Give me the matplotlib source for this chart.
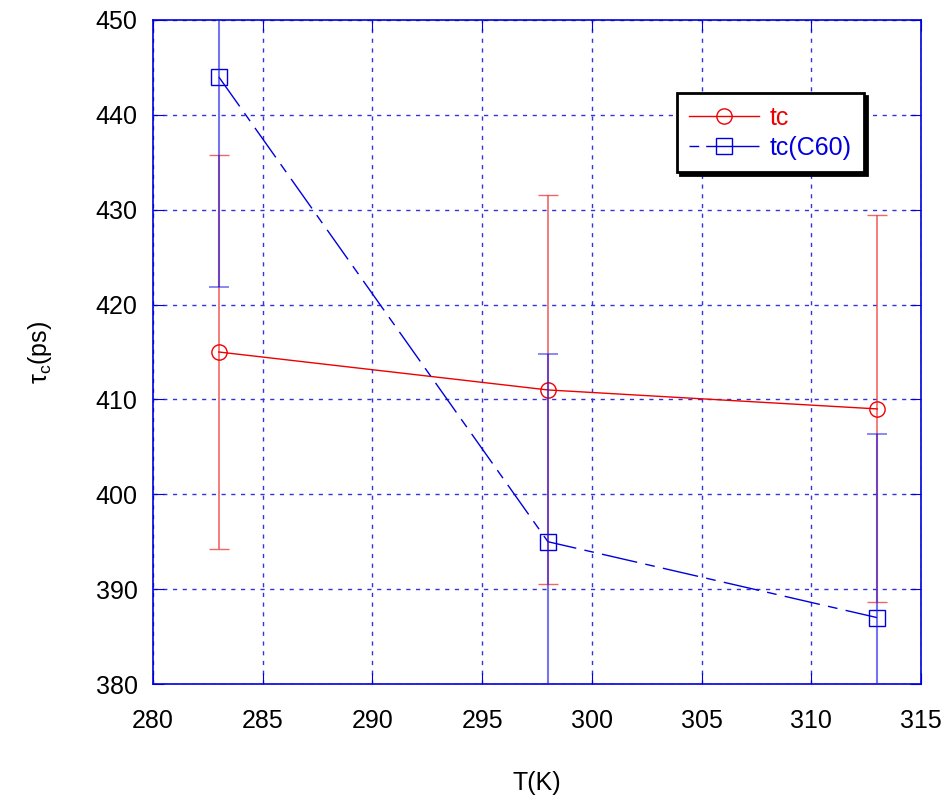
"""Tempo de correlacao tau_c em funcao da temperatura."""

import matplotlib
matplotlib.use("Agg")
import matplotlib.pyplot as plt
from matplotlib.lines import Line2D
from matplotlib.ticker import MultipleLocator

# Dados.
temperaturas = [283, 298, 313]
tc = [415, 411, 409]
erro_tc = [20.8, 20.5, 20.4]
tc_c60 = [444, 395, 387]
erro_tc_c60 = [22.2, 19.8, 19.4]

plt.rcParams["font.family"] = ["Liberation Sans", "DejaVu Sans"]

fig = plt.figure(figsize=(9.46, 7.99), dpi=100)
ax = fig.add_axes([0.1617, 0.1439, 0.8119, 0.8311])

vermelho = "#ee0000"
azul = "#0000dd"
tracos_c60 = [26, 6, 7, 6]

ax.errorbar(
    temperaturas, tc, yerr=erro_tc,
    color=vermelho, linewidth=1, marker="o", markersize=11,
    markerfacecolor="none", markeredgecolor=vermelho, markeredgewidth=1,
    ecolor=(0.93, 0.25, 0.25, 0.8), elinewidth=1.2, capsize=7, capthick=1.2,
    zorder=3,
)
linha_c60, = ax.plot(
    temperaturas, tc_c60, color=azul, linewidth=1,
    marker="s", markersize=11, markerfacecolor="none",
    markeredgecolor=azul, markeredgewidth=1, zorder=4,
)
linha_c60.set_dashes(tracos_c60)
ax.errorbar(
    temperaturas, tc_c60, yerr=erro_tc_c60, fmt="none",
    ecolor=(0.1, 0.1, 0.9, 0.6), elinewidth=1.5, capsize=7, capthick=1.2,
    zorder=5,
)

ax.set_xlim(280, 315)
ax.set_ylim(380, 450)
ax.xaxis.set_major_locator(MultipleLocator(5))
ax.yaxis.set_major_locator(MultipleLocator(10))
ax.grid(True, color="#3333dd", linestyle=(0, (3, 4)), linewidth=1)
ax.tick_params(direction="in", length=8, color=azul, labelsize=18,
               top=True, right=True)
ax.tick_params(axis="x", pad=18)
ax.tick_params(axis="y", pad=11)
for lado in ax.spines.values():
    lado.set_color(azul)
    lado.set_linewidth(1.2)

ax.set_xlabel("T(K)", fontsize=18, labelpad=27)
ax.set_ylabel(r"$\mathregular{τ_c}$(ps)", fontsize=18, labelpad=30)

# Legenda sem as barras de erro, como no original.
h_tc = Line2D([], [], color=vermelho, linewidth=1, marker="o", markersize=11,
              markerfacecolor="none", markeredgecolor=vermelho)
h_c60 = Line2D([], [], color=azul, linewidth=1, marker="s", markersize=11,
               markerfacecolor="none", markeredgecolor=azul,
               dashes=[7, 5, 80, 1])
leg = ax.legend(
    [h_tc, h_c60], ["tc", "tc(C60)"],
    loc="upper left", bbox_to_anchor=(0.682, 0.890),
    fontsize=18, frameon=True, fancybox=False,
    shadow={"color": "black", "alpha": 1},
    handlelength=2.8, handletextpad=0.4, borderpad=0.5, labelspacing=0.25,
    borderaxespad=0,
)
leg.get_frame().set_edgecolor("black")
leg.get_frame().set_linewidth(2)
for texto, cor in zip(leg.get_texts(), [vermelho, azul]):
    texto.set_color(cor)

fig.savefig("out.png", dpi=100)
plt.close(fig)
